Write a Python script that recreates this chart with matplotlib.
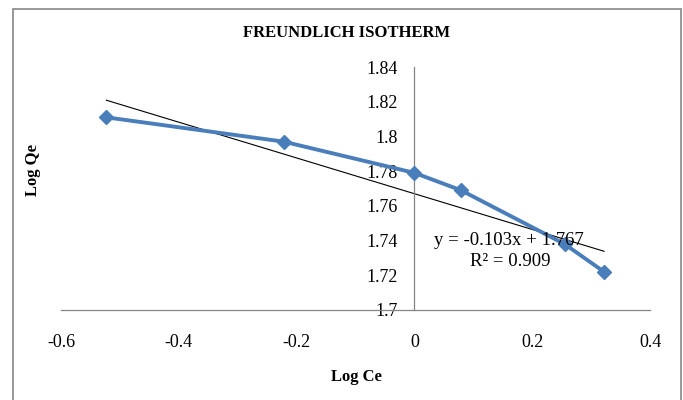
import matplotlib
matplotlib.use("Agg")
import matplotlib.pyplot as plt
from matplotlib.patches import Rectangle
from matplotlib.ticker import FuncFormatter

plt.rcParams['font.family'] = ['Liberation Serif', 'DejaVu Serif']
plt.rcParams['axes.unicode_minus'] = False

log_ce = [-0.523, -0.222, 0.0, 0.079, 0.255, 0.322]
log_qe = [1.811, 1.797, 1.779, 1.769, 1.738, 1.722]
slope = -0.103
intercept = 1.767
r2 = 0.909
x_ticks = [-0.6, -0.4, -0.2, 0, 0.2, 0.4]
y_ticks = [1.7, 1.72, 1.74, 1.76, 1.78, 1.8, 1.82, 1.84]

fig = plt.figure(figsize=(6.83, 4.0), dpi=100)
fig.patches.append(Rectangle((13/683, -0.05), (681-13)/683, 1 - 9/400 + 0.05,
                             transform=fig.transFigure, fill=False,
                             edgecolor='#868686', lw=1.2))
ax = fig.add_axes([61/683, 1-310/400, (650-61)/683, (310-67)/400])

ax.plot(log_ce, log_qe, color='#4A7EBB', lw=2.8, marker='D', ms=7,
        markerfacecolor='#4A7EBB', markeredgecolor='#4A7EBB', zorder=3)
xs = [min(log_ce), max(log_ce)]
ax.plot(xs, [slope*x + intercept for x in xs], color='black', lw=0.8, zorder=2)

ax.set_xlim(-0.6, 0.4)
ax.set_ylim(1.7, 1.84)
ax.set_xticks(x_ticks)
ax.set_yticks(y_ticks)
fmt = FuncFormatter(lambda v, p: '%g' % round(v, 4))
ax.xaxis.set_major_formatter(fmt)
ax.yaxis.set_major_formatter(fmt)

for s in ['top', 'right']:
    ax.spines[s].set_visible(False)
ax.spines['left'].set_position(('data', 0))
for s in ['left', 'bottom']:
    ax.spines[s].set_color('#868686')
    ax.spines[s].set_linewidth(0.9)
ax.tick_params(axis='x', length=0, pad=17, labelsize=13)
ax.tick_params(axis='y', length=0, pad=12, labelsize=13)
ax.patch.set_visible(False)

fig.text(347/683, 1-33/400, 'FREUNDLICH ISOTHERM', ha='center', va='center',
         fontsize=12, fontweight='bold')
fig.text(33/683, 1-170/400, 'Log Qe', ha='center', va='center', rotation=90,
         fontsize=12, fontweight='bold')
fig.text(356/683, 1-377/400, 'Log Ce', ha='center', va='center',
         fontsize=12, fontweight='bold')

ax.text(0.16, 1.7398, 'y = -%.3fx + %.3f' % (-slope, intercept), ha='center', va='center', fontsize=13.5)
ax.text(0.163, 1.7277, 'R² = %.3f' % r2, ha='center', va='center', fontsize=13.5)

fig.savefig('out.png', dpi=100)
